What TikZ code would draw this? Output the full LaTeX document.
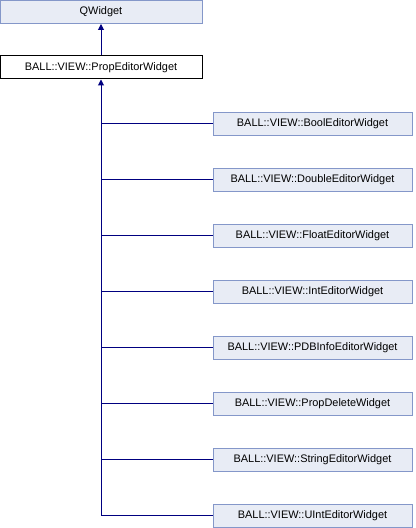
\documentclass[tikz,border=0pt]{standalone}
\usepackage{fontspec}
\setmainfont{Liberation Sans}
\usepackage{tikz}
\usetikzlibrary{arrows.meta,positioning}
\definecolor{classfill}{HTML}{E8ECF5}
\definecolor{classdraw}{HTML}{8497C9}
\definecolor{inhblue}{HTML}{000080}
\tikzset{
  classbox/.style={draw=classdraw,fill=classfill,line width=0.75pt,minimum height=17.25pt,inner sep=0pt,font=\fontsize{8.2}{9}\selectfont},
  currentbox/.style={draw=black,fill=white,line width=0.75pt,minimum height=17.25pt,minimum width=151.5pt,inner sep=0pt,font=\fontsize{8.2}{9}\selectfont},
  inhline/.style={draw=inhblue,line width=0.75pt},
  inharrow/.style={-{Triangle[length=4.5pt,width=4.5pt]},draw=inhblue,line width=0.75pt}
}
\begin{document}
\begin{tikzpicture}[x=0.75pt,y=-0.75pt]
  \useasboundingbox (0,0) rectangle (416,528);
  \node[classbox,minimum width=151.5pt] (qwidget) at (101,12) {QWidget};
  \node[currentbox] (propeditor) at (101,67.5) {BALL::VIEW::PropEditorWidget};
  % derived classes
  \foreach \name/\label [count=\i from 0] in {bool/BoolEditorWidget,double/DoubleEditorWidget,float/FloatEditorWidget,int/IntEditorWidget,pdbinfo/PDBInfoEditorWidget,propdelete/PropDeleteWidget,string/StringEditorWidget,uint/UIntEditorWidget}
    \node[classbox,minimum width=149.25pt] (\name) at (312.5,123.5+56*\i) {BALL::VIEW::\label};
  \draw[inharrow] (propeditor.north) -- (qwidget.south);
  \draw[inharrow] (uint.west) -| (propeditor.south);
  \foreach \name in {bool,double,float,int,pdbinfo,propdelete,string}
    \draw[inhline] (\name.west) -- (\name.west -| propeditor.south);
\end{tikzpicture}
\end{document}
